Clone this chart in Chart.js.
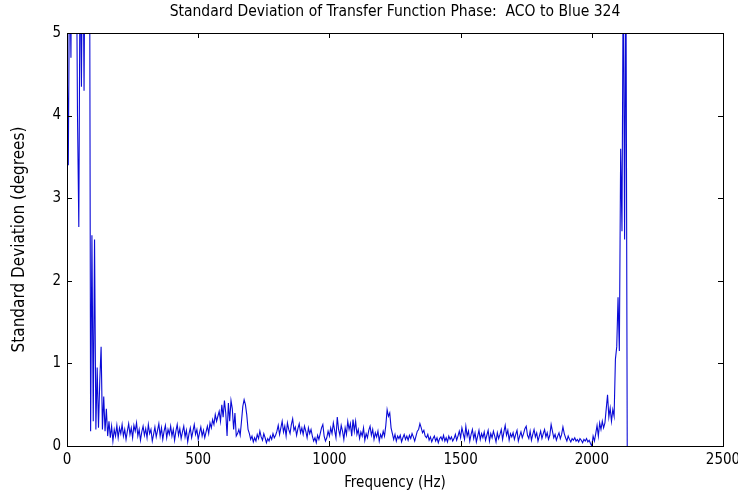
<!DOCTYPE html>
<html>
<head>
<meta charset="utf-8">
<script src="https://cdn.jsdelivr.net/npm/chart.js@4/dist/chart.umd.min.js"></script>
<style>
  html, body { margin: 0; padding: 0; background: #fff; }
  #wrap { width: 738px; height: 499px; }
</style>
</head>
<body>
<div id="wrap"><canvas id="phaseChart" width="738" height="499"></canvas></div>
<script>
// std dev of transfer function phase, one sample every 5 Hz
var freq_step = 5;

// 0 - 195 Hz, noisy start (values above 5 run off the top)
var band_low = [
  4.9, 3.4, 6.0, 4.7, 7.5, 6.0, 8.0, 6.5, 4.0, 2.65, 6.0, 4.35, 6.5, 4.3, 7.0, 9.0, 8.0, 8.0, 0.18, 2.55,
  0.3, 2.5, 0.2, 0.95, 0.22, 0.8, 1.2, 0.2, 0.6, 0.18, 0.45, 0.12, 0.3, 0.1, 0.24, 0.06, 0.2, 0.12, 0.25, 0.1
];

// 200 - 1995 Hz
var band_mid = [
  0.22, 0.15, 0.26, 0.12, 0.2, 0.08, 0.18, 0.27, 0.14, 0.22, 0.1, 0.25, 0.18, 0.28, 0.12, 0.2, 0.07, 0.17, 0.24, 0.13,
  0.21, 0.1, 0.26, 0.15, 0.2, 0.06, 0.14, 0.23, 0.11, 0.19, 0.27, 0.12, 0.22, 0.08, 0.18, 0.25, 0.1, 0.2, 0.14, 0.24,
  0.12, 0.2, 0.07, 0.18, 0.26, 0.13, 0.21, 0.09, 0.17, 0.24, 0.11, 0.19, 0.05, 0.15, 0.22, 0.1, 0.18, 0.26, 0.14, 0.2,
  0.08, 0.16, 0.23, 0.12, 0.19, 0.1, 0.17, 0.24, 0.15, 0.28, 0.22, 0.32, 0.26, 0.38, 0.3, 0.36, 0.42, 0.3, 0.5, 0.35,
  0.55, 0.4, 0.12, 0.52, 0.3, 0.55, 0.45, 0.2, 0.4, 0.12, 0.15, 0.2, 0.13, 0.3, 0.48, 0.56, 0.5, 0.38, 0.2, 0.15,
  0.08, 0.12, 0.05, 0.1, 0.06, 0.14, 0.09, 0.18, 0.11, 0.07, 0.15, 0.1, 0.04, 0.09, 0.06, 0.12, 0.08, 0.15, 0.1, 0.13,
  0.18, 0.25, 0.14, 0.22, 0.3, 0.17, 0.24, 0.12, 0.28, 0.2, 0.15, 0.26, 0.33, 0.19, 0.23, 0.13, 0.21, 0.27, 0.16, 0.22,
  0.14, 0.24, 0.18, 0.1, 0.22, 0.15, 0.2, 0.12, 0.06, 0.1, 0.04, 0.13, 0.08, 0.15, 0.22, 0.26, 0.12, 0.06, 0.1, 0.18,
  0.12, 0.22, 0.15, 0.28, 0.19, 0.1, 0.35, 0.2, 0.13, 0.25, 0.18, 0.08, 0.22, 0.14, 0.3, 0.2, 0.27, 0.12, 0.32, 0.18,
  0.3, 0.14, 0.2, 0.09, 0.17, 0.12, 0.22, 0.07, 0.15, 0.1, 0.19, 0.24, 0.13, 0.2, 0.08, 0.16, 0.11, 0.18, 0.06, 0.14,
  0.1, 0.18, 0.12, 0.25, 0.44, 0.36, 0.4, 0.22, 0.15, 0.08, 0.14, 0.06, 0.12, 0.09, 0.13, 0.05, 0.1, 0.14, 0.08, 0.12,
  0.07, 0.13, 0.09, 0.15, 0.11, 0.06, 0.12, 0.18, 0.2, 0.27, 0.22, 0.16, 0.19, 0.12, 0.1, 0.14, 0.07, 0.11, 0.05, 0.09,
  0.12, 0.06, 0.1, 0.04, 0.09, 0.11, 0.07, 0.13, 0.06, 0.1, 0.05, 0.12, 0.08, 0.11, 0.06, 0.09, 0.14, 0.07, 0.12, 0.18,
  0.1, 0.22, 0.15, 0.08, 0.24, 0.12, 0.18, 0.06, 0.14, 0.2, 0.09, 0.16, 0.05, 0.12, 0.19, 0.08, 0.15, 0.1, 0.17, 0.07,
  0.13, 0.19, 0.06, 0.15, 0.1, 0.18, 0.12, 0.05, 0.16, 0.09, 0.14, 0.2, 0.08, 0.17, 0.25, 0.13, 0.19, 0.07, 0.15, 0.11,
  0.16, 0.08, 0.14, 0.19, 0.06, 0.12, 0.17, 0.1, 0.15, 0.21, 0.24, 0.13, 0.09, 0.18, 0.07, 0.14, 0.2, 0.11, 0.16, 0.06,
  0.12, 0.18, 0.09, 0.15, 0.2, 0.11, 0.16, 0.08, 0.13, 0.26, 0.18, 0.1, 0.14, 0.07, 0.12, 0.16, 0.09, 0.14, 0.23, 0.15,
  0.1, 0.06, 0.12, 0.08, 0.05, 0.09, 0.07, 0.1, 0.06, 0.08, 0.05, 0.09, 0.07, 0.04, 0.08, 0.06, 0.09, 0.05, 0.07, 0.03
];

// 2000 - 2135 Hz, blows up at the top end
var band_high = [
  0.0, 0.12, 0.06, 0.15, 0.25, 0.12, 0.28, 0.2, 0.3, 0.22, 0.28, 0.45, 0.62, 0.35, 0.46, 0.3, 0.44, 0.36, 1.05, 1.2,
  1.8, 1.15, 3.6, 2.6, 6.0, 2.5, 6.0, 0.0
];

var x_ticks = [0, 500, 1000, 1500, 2000, 2500];
var y_ticks = [0, 1, 2, 3, 4, 5];
var plot_title = 'Standard Deviation of Transfer Function Phase:  ACO to Blue 324';

var std_vals = band_low.concat(band_mid, band_high);
var points = std_vals.map(function (v, i) { return { x: i * freq_step, y: v }; });

var font_face = "'Liberation Sans Narrow', 'DejaVu Sans Condensed', 'Liberation Sans', sans-serif";

// matlab style box with inward ticks on all four sides, title centred on the axes
var box_ticks = {
  id: 'box_ticks',
  afterDraw: function (chart) {
    var ctx = chart.ctx;
    var a = chart.chartArea;
    var xs = chart.scales.x, ys = chart.scales.y;
    var len = 5;
    ctx.save();
    ctx.strokeStyle = '#000';
    ctx.lineWidth = 1;
    ctx.strokeRect(Math.round(a.left) + 0.5, Math.round(a.top) + 0.5,
                   Math.round(a.right - a.left), Math.round(a.bottom - a.top));
    ctx.beginPath();
    x_ticks.forEach(function (t) {
      var px = Math.round(xs.getPixelForValue(t)) + 0.5;
      ctx.moveTo(px, a.bottom); ctx.lineTo(px, a.bottom - len);
      ctx.moveTo(px, a.top); ctx.lineTo(px, a.top + len);
    });
    y_ticks.forEach(function (t) {
      var py = Math.round(ys.getPixelForValue(t)) + 0.5;
      ctx.moveTo(a.left, py); ctx.lineTo(a.left + len, py);
      ctx.moveTo(a.right, py); ctx.lineTo(a.right - len, py);
    });
    ctx.stroke();

    ctx.fillStyle = '#000';
    ctx.font = '15.5px ' + font_face;
    ctx.textAlign = 'center';
    ctx.textBaseline = 'middle';
    ctx.fillText(plot_title, (a.left + a.right) / 2, 12);
    ctx.restore();
  }
};

var ctx = document.getElementById('phaseChart').getContext('2d');
var chart = new Chart(ctx, {
  type: 'line',
  data: {
    datasets: [{
      label: 'std',
      data: points,
      borderColor: 'rgb(10, 10, 215)',
      borderWidth: 1.1,
      pointRadius: 0,
      tension: 0,
      fill: false
    }]
  },
  options: {
    responsive: false,
    animation: false,
    layout: { padding: { left: 0, right: 15, top: 33, bottom: 0 } },
    plugins: {
      legend: { display: false },
      tooltip: { enabled: false },
      title: { display: false }
    },
    scales: {
      x: {
        type: 'linear',
        min: 0,
        max: 2500,
        afterBuildTicks: function (axis) { axis.ticks = x_ticks.map(function (v) { return { value: v }; }); },
        afterFit: function (axis) { axis.height = 53; axis.paddingRight = 0; axis.paddingLeft = 0; },
        grid: { display: false, tickLength: 0 },
        border: { display: false },
        ticks: {
          color: '#000', padding: 5, maxRotation: 0,
          font: { family: font_face, size: 15 },
          callback: function (v) { return String(v); }
        },
        title: {
          display: true,
          text: 'Frequency (Hz)',
          color: '#000',
          padding: { top: 7, bottom: 7 },
          font: { family: font_face, size: 15 }
        }
      },
      y: {
        min: 0,
        max: 5,
        afterBuildTicks: function (axis) { axis.ticks = y_ticks.map(function (v) { return { value: v }; }); },
        afterFit: function (axis) { axis.width = 67; axis.paddingTop = 0; axis.paddingBottom = 0; },
        grid: { display: false, tickLength: 0 },
        border: { display: false },
        ticks: { color: '#000', padding: 6, font: { family: font_face, size: 15 } },
        title: {
          display: true,
          text: 'Standard Deviation (degrees)',
          color: '#000',
          padding: { top: 9, bottom: 9 },
          font: { family: font_face, size: 17 }
        }
      }
    }
  },
  plugins: [box_ticks]
});
</script>
</body>
</html>
